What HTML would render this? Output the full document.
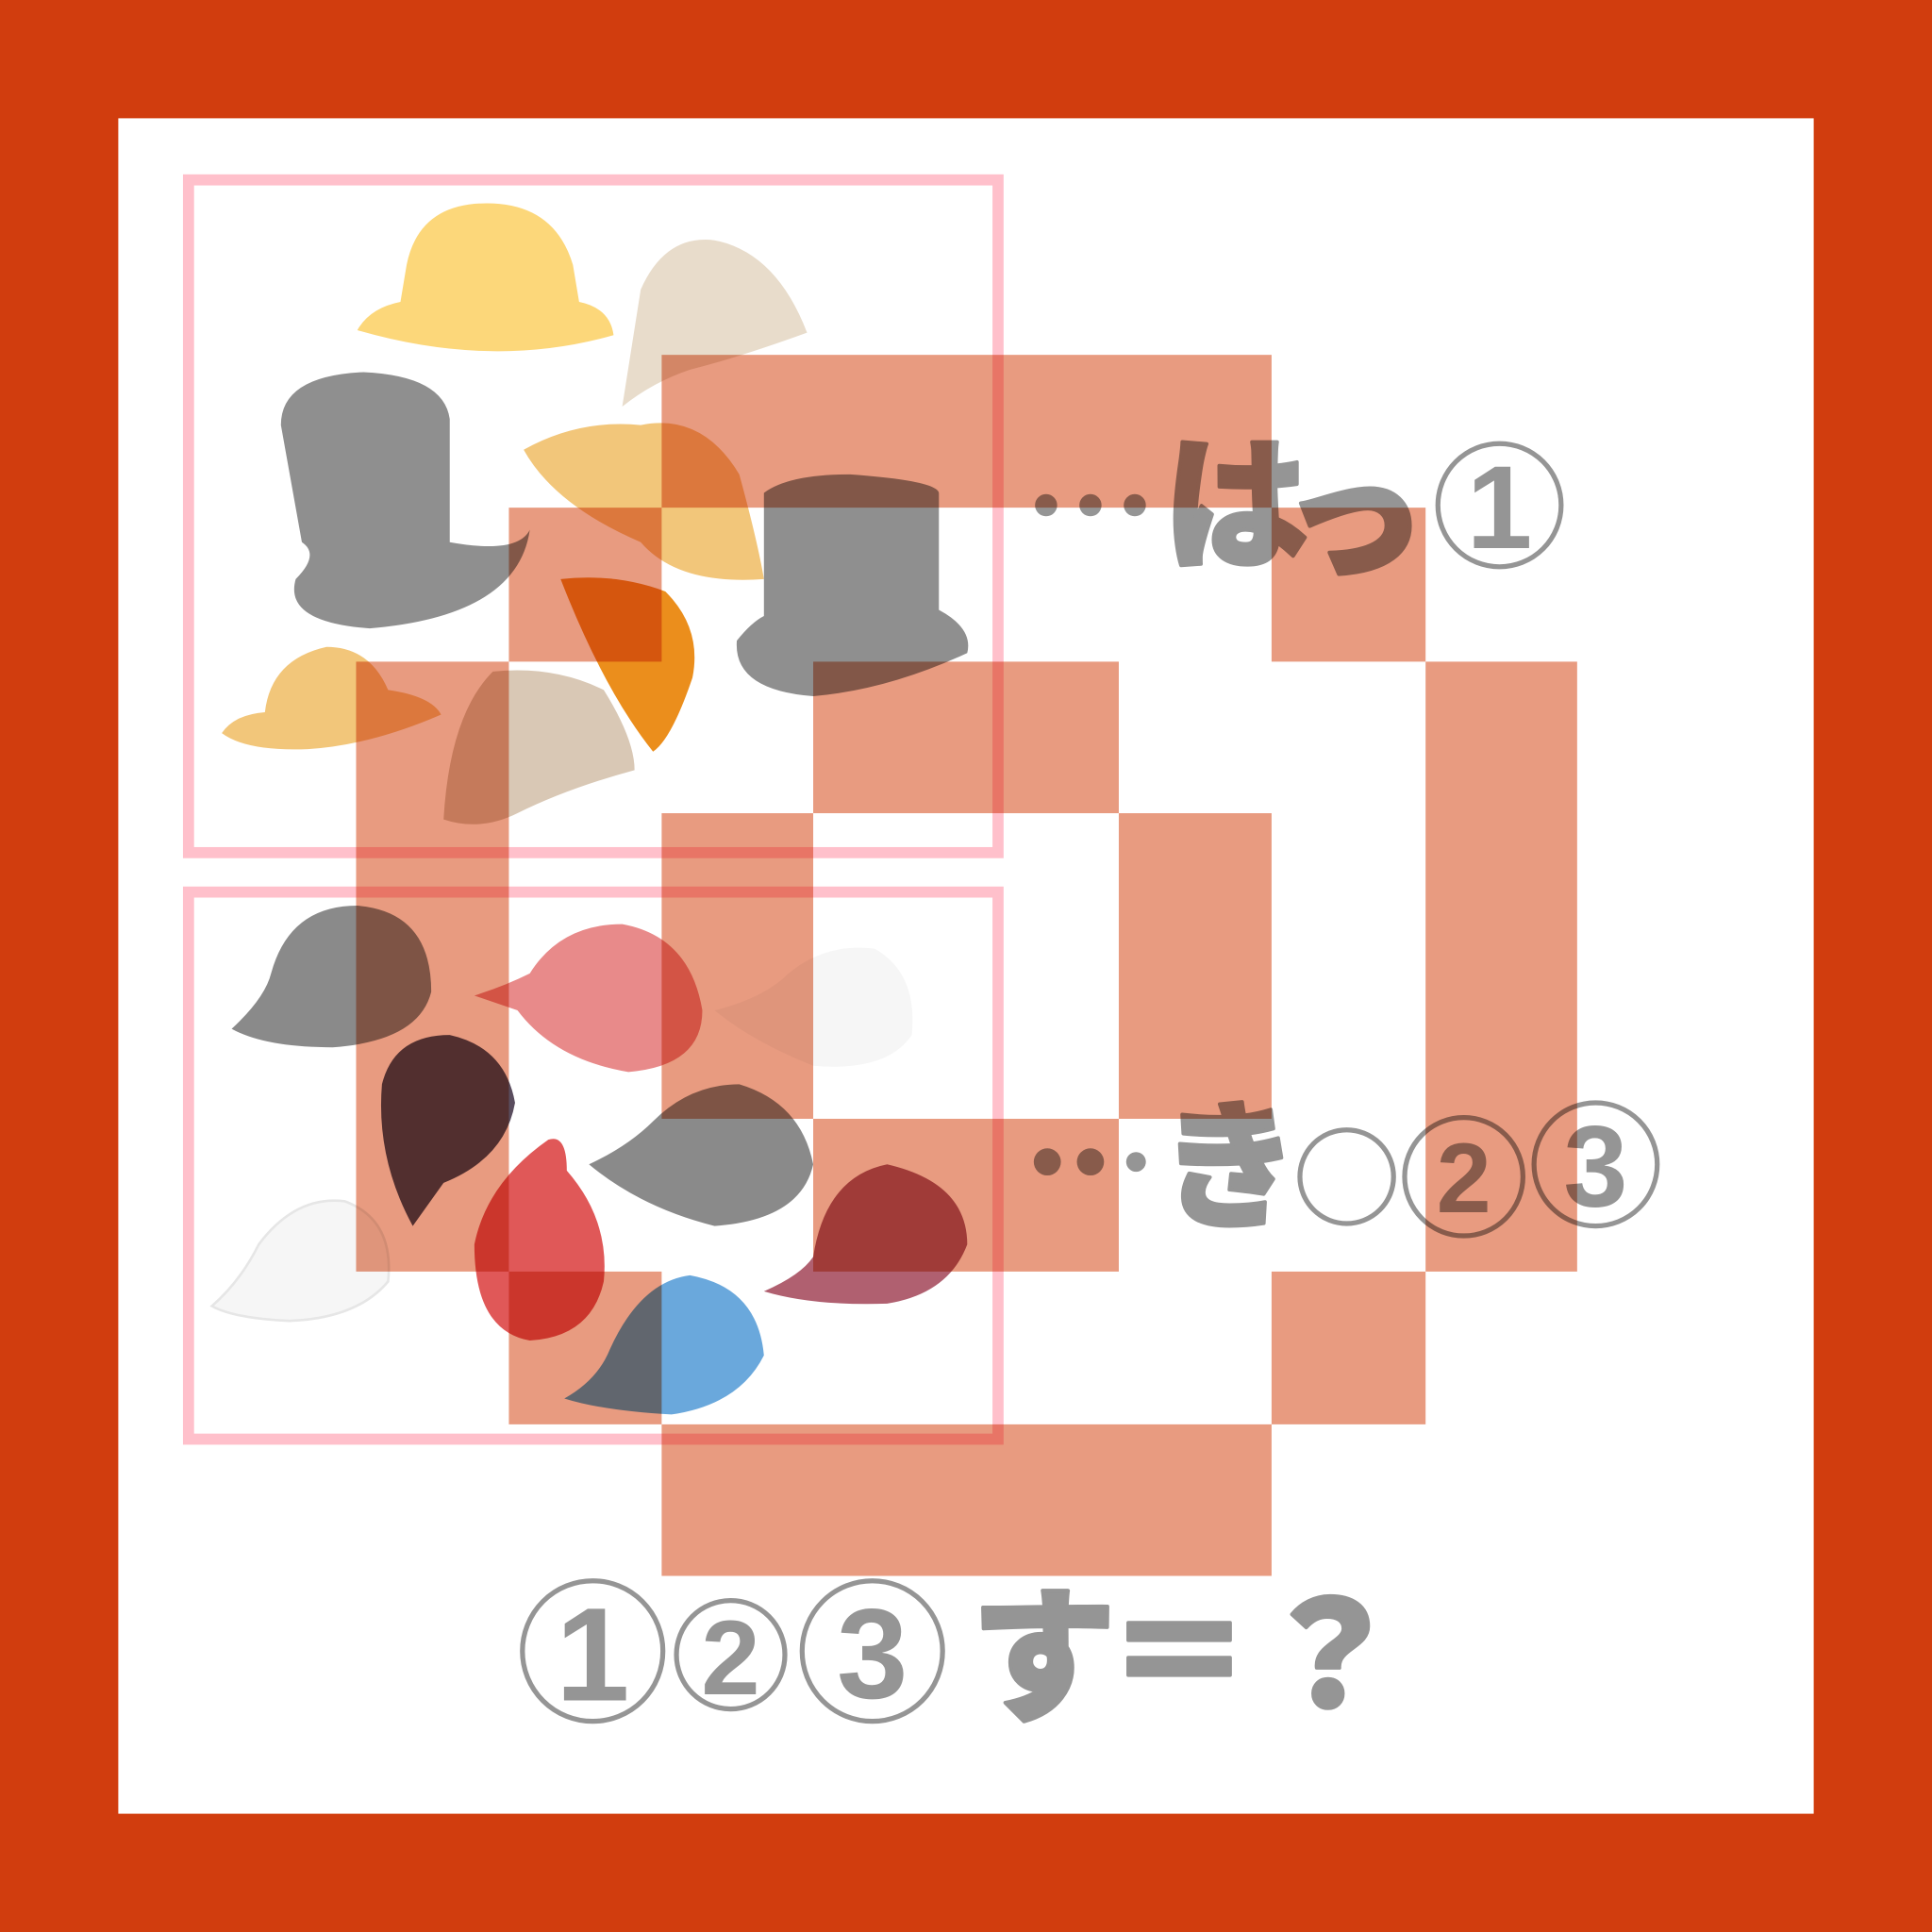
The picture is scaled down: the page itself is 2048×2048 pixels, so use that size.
<!DOCTYPE html>
<html><head><meta charset="utf-8"><style>
html,body{margin:0;padding:0;background:#d13d0e}
svg{display:block}
.jp{font-family:"Noto Sans CJK JP","Noto Sans CJK SC",sans-serif;font-weight:900;fill:#959595;stroke:#959595;stroke-width:3;stroke-linejoin:round}
.num{font-family:"Liberation Sans",sans-serif;font-weight:bold;fill:#959595;text-anchor:middle}
.ring{fill:none;stroke:#959595;stroke-width:4}
.blk{fill:#e89b80;mix-blend-mode:multiply}
</style></head><body>
<svg width="2048" height="2048" viewBox="0 0 1568 1568" xmlns="http://www.w3.org/2000/svg">
<rect x="0" y="0" width="1568" height="1568" fill="#d13d0e"/>
<rect x="96" y="96" width="1376" height="1376" fill="#ffffff"/>

<g>
 <path d="M290 268 Q300 250 325 245 L330 215 Q340 165 395 165 Q450 165 465 215 L470 245 Q495 250 498 272 Q400 300 290 268Z" fill="#fcd77a"/>
 <path d="M505 330 L520 235 Q540 190 580 195 Q630 205 655 270 Q600 290 560 300 Q530 310 505 330Z" fill="#e8dccb"/>
 <path d="M228 345 Q228 305 295 302 Q360 305 365 340 L365 440 Q420 450 430 430 Q420 500 300 510 Q230 505 240 470 Q260 450 245 440Z" fill="#8f8f8f"/>
 <path d="M425 365 Q470 340 520 345 Q570 335 600 385 Q615 440 620 470 Q550 475 520 440 Q450 410 425 365Z" fill="#f2c67a"/>
 <path d="M620 400 Q640 385 690 385 Q760 390 762 400 L762 495 Q790 510 785 530 Q720 560 660 565 Q595 560 598 520 Q610 505 620 500Z" fill="#8f8f8f"/>
 <path d="M455 470 Q500 465 540 480 Q570 510 562 550 Q545 600 530 610 Q490 560 455 470Z" fill="#eb8e1c"/>
 <path d="M180 595 Q190 580 215 578 Q220 535 265 525 Q300 525 315 560 Q350 565 358 580 Q300 605 250 608 Q200 610 180 595Z" fill="#f2c67a"/>
 <path d="M360 665 Q365 580 400 545 Q450 540 490 560 Q515 600 515 625 Q460 640 420 660 Q390 675 360 665Z" fill="#d9c8b5"/>
</g>
<g>
 <path d="M188 835 Q215 810 220 790 Q235 735 290 735 Q350 740 350 805 Q340 845 270 850 Q215 850 188 835Z" fill="#8a8a8a"/>
 <path d="M385 808 Q410 800 430 790 Q455 750 505 750 Q560 760 570 820 Q570 865 510 870 Q450 860 420 820Z" fill="#e88a8a"/>
 <path d="M580 820 Q620 810 640 790 Q670 765 710 770 Q745 790 740 840 Q720 870 660 865 Q610 845 580 820Z" fill="#f6f6f6"/>
 <path d="M310 880 Q320 840 365 840 Q410 850 418 895 Q410 940 360 960 L335 995 Q305 940 310 880Z" fill="#5a4d5e"/>
 <path d="M478 945 Q510 930 530 910 Q560 880 600 880 Q650 895 660 945 Q650 990 580 995 Q520 980 478 945Z" fill="#8a8a8a"/>
 <path d="M385 1010 Q395 960 445 925 Q460 920 460 950 Q495 990 490 1040 Q480 1085 430 1088 Q385 1080 385 1010Z" fill="#e05858"/>
 <path d="M620 1048 Q650 1035 660 1020 Q670 955 720 945 Q785 960 785 1010 Q770 1050 720 1058 Q660 1060 620 1048Z" fill="#b06070"/>
 <path d="M172 1060 Q195 1040 210 1010 Q240 970 280 975 Q320 990 315 1040 Q290 1070 235 1072 Q190 1070 172 1060Z" fill="#f6f6f6" stroke="#e6e6e6" stroke-width="2"/>
 <path d="M458 1135 Q485 1120 495 1095 Q520 1040 560 1035 Q615 1045 620 1100 Q600 1140 545 1148 Q490 1145 458 1135Z" fill="#6aa8dc"/>
</g>

<g fill="none" stroke="#ffc0cb" stroke-width="9">
 <rect x="153" y="146" width="657" height="546"/>
 <rect x="153" y="724" width="657" height="444"/>
</g>

<g>
 <circle cx="849" cy="410" r="9" fill="#959595"/>
 <circle cx="885" cy="410" r="9" fill="#959595"/>
 <circle cx="921" cy="410" r="9" fill="#959595"/>
 <text class="jp" x="944" y="452" font-size="118">は</text>
 <text class="jp" x="1040" y="460" font-size="118">っ</text>
 <circle class="ring" cx="1217" cy="410" r="50"/>
 <text class="num" x="1217" y="445" font-size="96">1</text>
</g>
<g>
 <circle cx="850" cy="943" r="11" fill="#959595"/>
 <circle cx="885" cy="943" r="11" fill="#959595"/>
 <circle cx="922" cy="943" r="8" fill="#959595"/>
 <text class="jp" x="942" y="987" font-size="112">き</text>
 <circle class="ring" cx="1093" cy="955" r="38"/>
 <circle class="ring" cx="1188" cy="955" r="48"/>
 <text class="num" x="1188" y="984" font-size="80">2</text>
 <circle class="ring" cx="1295" cy="945" r="50"/>
 <text class="num" x="1295" y="979" font-size="94">3</text>
</g>
<g>
 <circle class="ring" cx="481" cy="1340" r="57"/>
 <text class="num" x="481" y="1380" font-size="108">1</text>
 <circle class="ring" cx="593" cy="1343" r="44"/>
 <text class="num" x="593" y="1375" font-size="86">2</text>
 <circle class="ring" cx="708" cy="1340" r="57"/>
 <text class="num" x="708" y="1378" font-size="104">3</text>
 <text class="jp" x="788" y="1387" font-size="118">す</text>
 <text class="jp" x="898" y="1385" font-size="118">＝</text>
 <text class="jp" x="1020" y="1385" font-size="118">？</text>
</g>

<g>
 <rect class="blk" x="537" y="288" width="495" height="124"/>
 <rect class="blk" x="413" y="412" width="124" height="125"/>
 <rect class="blk" x="1032" y="412" width="125" height="125"/>
 <rect class="blk" x="289" y="537" width="124" height="495"/>
 <rect class="blk" x="660" y="537" width="248" height="123"/>
 <rect class="blk" x="1157" y="537" width="123" height="495"/>
 <rect class="blk" x="537" y="660" width="123" height="248"/>
 <rect class="blk" x="908" y="660" width="124" height="248"/>
 <rect class="blk" x="660" y="908" width="248" height="124"/>
 <rect class="blk" x="413" y="1032" width="124" height="124"/>
 <rect class="blk" x="1032" y="1032" width="125" height="124"/>
 <rect class="blk" x="537" y="1156" width="495" height="123"/>
</g>
</svg>
</body></html>
